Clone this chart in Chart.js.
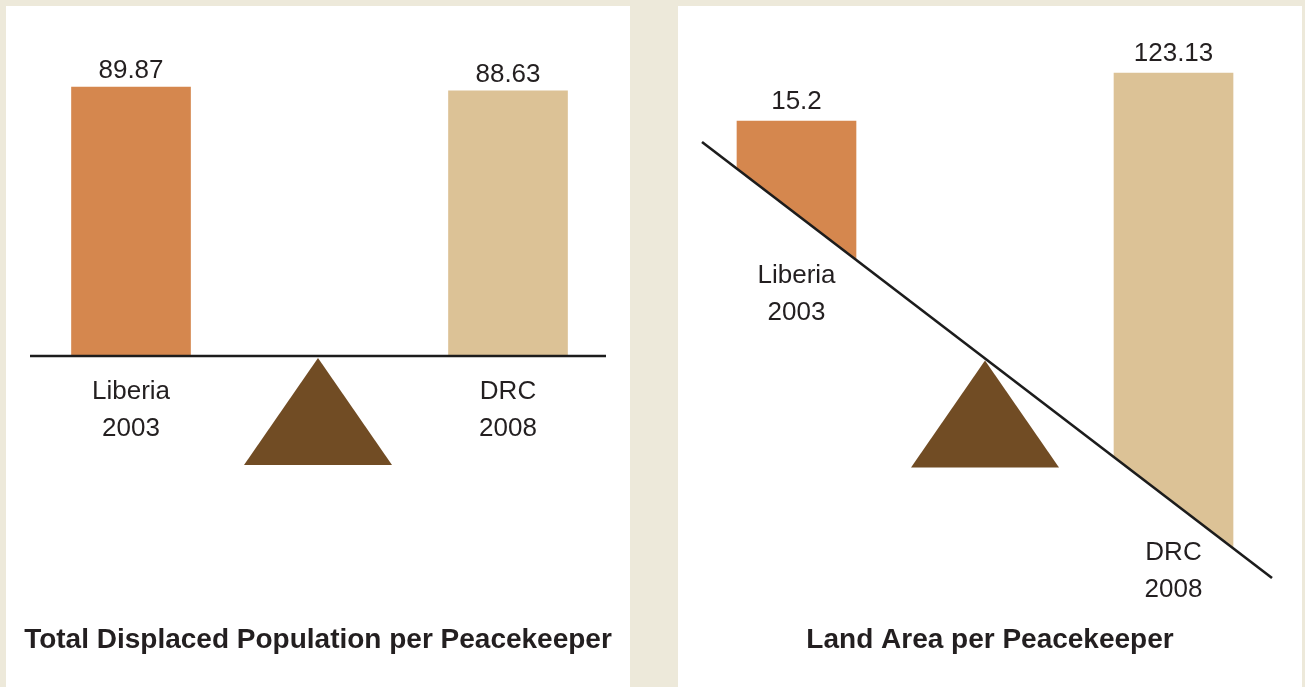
<!DOCTYPE html>
<html>
<head>
<meta charset="utf-8">
<script src="https://cdn.jsdelivr.net/npm/chart.js@4.4.1/dist/chart.umd.min.js"></script>
<style>
html,body{margin:0;padding:0;background:#ede9da;width:1305px;height:687px;overflow:hidden;}
.panel{position:absolute;top:6px;width:624px;height:681px;background:#fff;}
#pL{left:6px;}
#pR{left:678px;}
canvas{display:block;}
</style>
</head>
<body>
<div class="panel" id="pL"><canvas id="cL" width="624" height="681"></canvas></div>
<div class="panel" id="pR"><canvas id="cR" width="624" height="681"></canvas></div>
<script>
// ── data ──
var CATS=["Liberia","DRC"];
var YEARS=["2003","2008"];
var DISPLACED=[89.87,88.63];
var LAND=[15.2,123.13];
var TITLES=["Total Displaced Population per Peacekeeper","Land Area per Peacekeeper"];

var BAR_COLORS=["#d5874e","#dcc296"];
var TXT="#231f20";
var FONT="'Liberation Sans', Arial, Helvetica, sans-serif";

// beam y at canvas x
function beamAt(ch,o,x){
  var px=ch.scales.x.getPixelForValue(0.5);
  return o.beamY+o.slope*(x-px);
}

var seesaw={
  id:"seesaw",
  beforeDatasetsDraw:function(ch,args,o){
    var ctx=ch.ctx,W=ch.width;
    // bars only show above the beam
    ctx.save();
    ctx.beginPath();
    ctx.moveTo(0,0);ctx.lineTo(W,0);
    ctx.lineTo(W,beamAt(ch,o,W));
    ctx.lineTo(0,beamAt(ch,o,0));
    ctx.closePath();
    ctx.clip();
  },
  afterDatasetsDraw:function(ch,args,o){
    var ctx=ch.ctx;
    ctx.restore();
    var px=ch.scales.x.getPixelForValue(0.5)+o.fulcrumDx;
    var ay=beamAt(ch,o,px)+2;

    // fulcrum
    ctx.save();
    ctx.fillStyle="#714c24";
    ctx.beginPath();
    ctx.moveTo(px,ay);
    ctx.lineTo(px+74,ay+107);
    ctx.lineTo(px-74,ay+107);
    ctx.closePath();
    ctx.fill();

    // beam
    ctx.strokeStyle="#1c1c1c";
    ctx.lineWidth=o.lineWidth;
    ctx.beginPath();
    ctx.moveTo(o.beamX[0],beamAt(ch,o,o.beamX[0]));
    ctx.lineTo(o.beamX[1],beamAt(ch,o,o.beamX[1]));
    ctx.stroke();

    // labels
    var meta=ch.getDatasetMeta(0),vals=ch.data.datasets[0].values;
    ctx.fillStyle=TXT;
    ctx.textAlign="center";
    ctx.textBaseline="alphabetic";
    ctx.font="26px "+FONT;
    meta.data.forEach(function(el,i){
      var top=Math.min(el.y,el.base);
      ctx.fillText(String(vals[i]),el.x,top-o.valueGap);
      var y0=beamAt(ch,o,el.x)+o.labelDy[i];
      ctx.fillText(CATS[i],el.x,y0);
      ctx.fillText(YEARS[i],el.x,y0+37);
    });

    // panel title
    ctx.font="bold 28px "+FONT;
    ctx.fillText(o.title,ch.width/2,o.titleY);
    ctx.restore();
  }
};

function makeChart(id,vals,xr,yr,ss){
  var el=document.getElementById(id);
  return new Chart(el,{
    type:"bar",
    data:{
      datasets:[{
        data:vals.map(function(v,i){return{x:i,y:[yr[0],v]};}),
        values:vals,
        backgroundColor:BAR_COLORS,
        borderWidth:0,
        barThickness:119
      }]
    },
    options:{
      responsive:false,
      animation:false,
      devicePixelRatio:1,
      layout:{padding:0},
      scales:{
        x:{type:"linear",display:false,offset:false,min:xr[0],max:xr[1]},
        y:{type:"linear",display:false,beginAtZero:false,min:yr[0],max:yr[1]}
      },
      plugins:{
        legend:{display:false},
        tooltip:{enabled:false},
        title:{display:false},
        seesaw:ss
      }
    },
    plugins:[seesaw]
  });
}

// left: balanced beam
makeChart("cL",DISPLACED,[-0.3316,1.3236],[-111.39,117.10],{
  beamY:350,slope:0,beamX:[24,600],lineWidth:2.4,fulcrumDx:-1.5,
  valueGap:9,labelDy:[43,43],title:TITLES[0],titleY:642
});

// right: tilted beam
makeChart("cR",LAND,[-0.3143,1.3408],[-1257.45,273.78],{
  beamY:352.5,slope:0.765,beamX:[24,594],lineWidth:2.6,fulcrumDx:0,
  valueGap:12,labelDy:[69,57],title:TITLES[1],titleY:642
});
</script>
</body>
</html>
